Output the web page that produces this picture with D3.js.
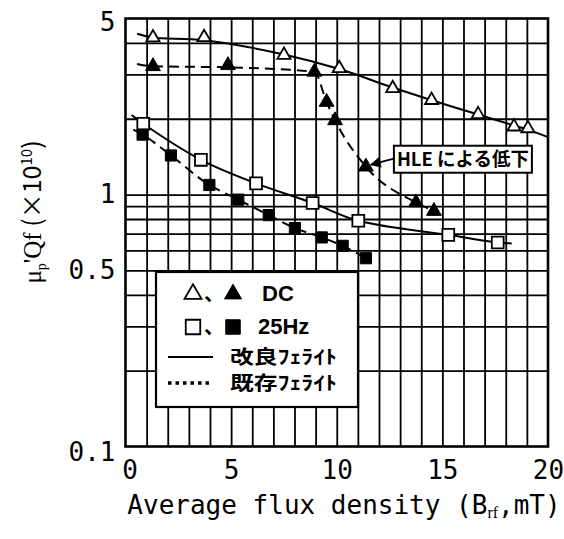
<!DOCTYPE html>
<html>
<head>
<meta charset="utf-8">
<script src="https://cdn.jsdelivr.net/npm/d3@7"></script>
<style>
	body { margin: 0; background: #fff; }
	svg { display: block; }
	.tick_text { font-family: "DejaVu Sans Mono", monospace; font-size: 26px; fill: #000; }
</style>
</head>
<body>
<div id="chart"></div>
<script>
// axis ticks
const x_ticks = [0, 5, 10, 15, 20];
const y_ticks = [0.1, 0.5, 1, 5];
const x_grid = d3.range(1, 20);
const y_grid = [0.2, 0.3, 0.4, 0.5, 0.6, 0.7, 0.8, 0.9, 1, 2, 3, 4];

// DC, improved ferrite (open triangles, solid line)
const dc_new_x = [1.3, 3.72, 7.5, 10.12, 12.65, 14.49, 16.69, 18.39, 19.05];
const dc_new_y = [4.2, 4.21, 3.58, 3.17, 2.64, 2.37, 2.08, 1.86, 1.83];
const dc_new_line_x = [0.55, 1.3, 3.72, 7.5, 10.12, 12.65, 14.49, 16.69, 18.39, 19.05, 20];
const dc_new_line_y = [4.35, 4.2, 4.1, 3.6, 3.15, 2.66, 2.37, 2.08, 1.88, 1.81, 1.69];

// DC, existing ferrite (filled triangles, dashed line)
const dc_old_x = [1.3, 4.85, 8.94, 9.52, 9.92, 11.38, 13.75, 14.6];
const dc_old_y = [3.23, 3.26, 3.07, 2.33, 1.97, 1.29, 0.93, 0.86];
const dc_old_line_x = [0.55, 1.3, 4.85, 8.94, 9.52, 9.92, 11.38, 13.75, 14.6];
const dc_old_line_y = [3.3, 3.23, 3.2, 3.07, 2.33, 1.97, 1.29, 0.93, 0.86];

// 25Hz, improved ferrite (open squares, solid line)
const hz_new_x = [0.84, 3.57, 6.18, 8.86, 11.02, 15.28, 17.62];
const hz_new_y = [1.91, 1.374, 1.108, 0.926, 0.787, 0.692, 0.645];
const hz_new_line_x = [0.29, 0.84, 3.57, 6.18, 8.86, 11.02, 15.28, 17.62, 18.28];
const hz_new_line_y = [2.07, 1.91, 1.374, 1.108, 0.926, 0.787, 0.692, 0.645, 0.64];

// 25Hz, existing ferrite (filled squares, dashed line)
const hz_old_x = [0.81, 2.15, 3.97, 5.34, 6.78, 8.02, 9.29, 10.28, 11.38];
const hz_old_y = [1.73, 1.43, 1.092, 0.955, 0.829, 0.736, 0.676, 0.626, 0.559];
const hz_old_line_x = [0.37, 0.81, 2.15, 3.97, 5.34, 6.78, 8.02, 9.29, 10.28, 11.38];
const hz_old_line_y = [1.81, 1.73, 1.43, 1.092, 0.955, 0.829, 0.736, 0.676, 0.626, 0.559];

// annotation: arrow points at the filled triangle near x = 11.4
const note_text = "HLE による低下";
const note_point = [11.38, 1.29];

const legend_rows = [
	{ marks: ["tri_open", "tri_fill"], label: "DC" },
	{ marks: ["sq_open", "sq_fill"], label: "25Hz" },
	{ line: "solid", label: "改良ﾌｪﾗｲﾄ" },
	{ line: "dotted", label: "既存ﾌｪﾗｲﾄ" }
];

function zip(xs, ys) {
	return xs.map((x, i) => ({ x: x, y: ys[i] }));
}

class flux_chart {

	constructor(opts) {
		this.element = opts.element;
		this.series = opts.series;
		this.init();
	}

	init() {
		this.margin = { top: 18.5, right: 16, bottom: 92.5, left: 125.5 };
		this.w = 564;
		this.h = 539;
		this.width = this.w - this.margin.left - this.margin.right;
		this.height = this.h - this.margin.top - this.margin.bottom;

		this.root = d3.select(this.element).append("svg")
			.attr("width", this.w)
			.attr("height", this.h);
		this.svg = this.root.append("g")
			.attr("transform", `translate(${this.margin.left},${this.margin.top})`);

		this.create_scales();
		this.create_axes();
		this.create_shapes();
		this.create_legend();
		this.create_note();
	}

	create_scales() {
		this.x_scale = d3.scaleLinear().domain([0, 20]).range([0, this.width]);
		this.y_scale = d3.scaleLog().domain([0.1, 5]).range([this.height, 0]);
	}

	create_axes() {
		// grid first, then the frame
		this.svg.append("g")
			.attr("class", "x grid")
			.attr("transform", `translate(0,${this.height})`)
			.call(d3.axisBottom(this.x_scale).tickValues(x_grid).tickSize(-this.height).tickFormat(""))
			.call(g => g.select(".domain").remove())
			.selectAll("line").attr("stroke", "#000").attr("stroke-width", 1.8);

		this.svg.append("g")
			.attr("class", "y grid")
			.call(d3.axisLeft(this.y_scale).tickValues(y_grid).tickSize(-this.width).tickFormat(""))
			.call(g => g.select(".domain").remove())
			.selectAll("line").attr("stroke", "#000").attr("stroke-width", 1.8);

		this.svg.append("rect")
			.attr("width", this.width)
			.attr("height", this.height)
			.attr("fill", "none")
			.attr("stroke", "#000")
			.attr("stroke-width", 2.6);

		this.x_axis = this.svg.append("g")
			.attr("class", "x axis")
			.attr("transform", `translate(0,${this.height})`)
			.call(d3.axisBottom(this.x_scale).tickValues(x_ticks).tickSize(0).tickPadding(14).tickFormat(d3.format("d")))
			.call(g => g.select(".domain").remove());
		this.x_axis.selectAll("text").attr("class", "tick_text").attr("font-size", null).attr("font-family", null)
			.attr("dx", d => d === 0 ? 4 : 0);

		this.y_axis = this.svg.append("g")
			.attr("class", "y axis")
			.call(d3.axisLeft(this.y_scale).tickValues(y_ticks).tickSize(0).tickPadding(10)
				.tickFormat(d => d < 1 ? d3.format(".1f")(d) : d3.format("d")(d)))
			.call(g => g.select(".domain").remove());
		this.y_axis.selectAll("text").attr("class", "tick_text").attr("font-size", null).attr("font-family", null)
			.attr("dy", d => d === 0.1 ? "0.55em" : (d === 5 ? "0.45em" : "0.32em"));

		// axis titles
		this.root.append("text")
			.attr("x", 344)
			.attr("y", 514)
			.attr("text-anchor", "middle")
			.attr("font-family", "DejaVu Sans Mono, monospace")
			.attr("font-size", 26)
			.call(t => {
				t.append("tspan").text("Average flux density (B");
				t.append("tspan").attr("font-family", "Liberation Serif, serif").attr("font-size", 16).attr("dy", 4).text("rf");
				t.append("tspan").attr("dy", -4).text(",mT)");
			});

		this.root.append("text")
			.attr("transform", "translate(41,212) rotate(-90)")
			.attr("text-anchor", "middle")
			.attr("font-size", 25)
			.call(t => {
				t.append("tspan").attr("font-family", "Liberation Serif, serif").text("μ");
				t.append("tspan").attr("font-family", "Liberation Serif, serif").attr("font-size", 14).attr("dy", 5).text("p");
				t.append("tspan").attr("font-family", "Liberation Serif, serif").attr("dy", -5).text("'Qf");
				t.append("tspan").attr("font-family", "Noto Sans CJK JP, sans-serif").text(" (×10");
				t.append("tspan").attr("font-family", "Noto Sans CJK JP, sans-serif").attr("font-size", 15).attr("dy", -9).text("10");
				t.append("tspan").attr("font-family", "Noto Sans CJK JP, sans-serif").attr("dy", 9).text(")");
			});
	}

	marker(g, kind, x, y, big) {
		const tri = big ? 125 : 75;
		const sq = big ? 210 : 140;
		const sym = kind.startsWith("tri") ? d3.symbolTriangle : d3.symbolSquare;
		let area = kind.startsWith("tri") ? tri : sq;
		if (kind === "tri_fill" && !big) area = 95;
		if (kind === "sq_fill" && !big) area = 125;
		const filled = kind.endsWith("fill");
		g.append("path")
			.attr("transform", `translate(${x},${y})`)
			.attr("d", d3.symbol().type(sym).size(area)())
			.attr("fill", filled ? "#000" : "#fff")
			.attr("stroke", "#000")
			.attr("stroke-width", filled ? 1 : 1.8);
	}

	create_shapes() {
		const smooth = d3.line()
			.x(d => this.x_scale(d.x))
			.y(d => this.y_scale(d.y))
			.curve(d3.curveCatmullRom.alpha(0.5));
		const mono = d3.line()
			.x(d => this.x_scale(d.x))
			.y(d => this.y_scale(d.y))
			.curve(d3.curveMonotoneX);

		const g = this.svg.append("g").attr("class", "series");

		this.series.forEach(s => {
			g.append("path")
				.datum(zip(s.line_x, s.line_y))
				.attr("d", s.dashed ? mono : smooth)
				.attr("fill", "none")
				.attr("stroke", "#000")
				.attr("stroke-width", 2)
				.attr("stroke-dasharray", s.dashed ? "10,6" : null);
		});

		this.series.forEach(s => {
			zip(s.x, s.y).forEach(d => {
				this.marker(g, s.kind, this.x_scale(d.x), this.y_scale(d.y), false);
			});
		});
	}

	create_legend() {
		const lg = this.root.append("g").attr("class", "legend");
		lg.append("rect")
			.attr("x", 156).attr("y", 272)
			.attr("width", 202).attr("height", 135)
			.attr("fill", "#fff")
			.attr("stroke", "#000")
			.attr("stroke-width", 2.2);

		const row_y = [293, 326, 357, 383];
		legend_rows.forEach((r, i) => {
			const y = row_y[i];
			if (r.marks) {
				this.marker(lg, r.marks[0], 193, y + 1, true);
				lg.append("text")
					.attr("x", 204).attr("y", y + 8)
					.attr("font-family", "Noto Sans CJK JP, sans-serif")
					.attr("font-size", 20)
					.attr("font-weight", 700)
					.text("、");
				this.marker(lg, r.marks[1], 233, y + 1, true);
				lg.append("text")
					.attr("x", r.label === "DC" ? 262 : 258).attr("y", y + 8)
					.attr("font-family", "Liberation Sans, Arial, sans-serif")
					.attr("font-size", 22)
					.attr("font-weight", 700)
					.text(r.label);
			} else {
				lg.append("line")
					.attr("x1", 168).attr("x2", 213)
					.attr("y1", y).attr("y2", y)
					.attr("stroke", "#000")
					.attr("stroke-width", r.line === "dotted" ? 3.5 : 2)
					.attr("stroke-dasharray", r.line === "dotted" ? "3.5,4" : null);
				lg.append("text")
					.attr("x", 230).attr("y", y + 7)
					.attr("font-family", "Noto Sans CJK JP, sans-serif")
					.attr("font-size", 19)
					.attr("font-weight", 700)
					.attr("textLength", 107)
					.attr("lengthAdjust", "spacingAndGlyphs")
					.text(r.label);
			}
		});
	}

	create_note() {
		const px = this.margin.left + this.x_scale(note_point[0]);
		const py = this.margin.top + this.y_scale(note_point[1]);
		const bx = px + 28, by = py - 21;
		const ng = this.root.append("g").attr("class", "note");

		this.root.append("defs").append("marker")
			.attr("id", "arrow")
			.attr("viewBox", "0 0 10 10")
			.attr("refX", 9).attr("refY", 5)
			.attr("markerWidth", 7).attr("markerHeight", 6)
			.attr("orient", "auto")
			.append("path").attr("d", "M0,0 L10,5 L0,10 z").attr("fill", "#000");

		ng.append("line")
			.attr("x1", bx).attr("y1", by + 13)
			.attr("x2", px + 5).attr("y2", py - 2)
			.attr("stroke", "#000").attr("stroke-width", 1.8)
			.attr("marker-end", "url(#arrow)");

		ng.append("rect")
			.attr("x", bx).attr("y", by)
			.attr("width", 138).attr("height", 27)
			.attr("fill", "#fff").attr("stroke", "#000").attr("stroke-width", 2);

		ng.append("text")
			.attr("x", bx + 69).attr("y", by + 20)
			.attr("text-anchor", "middle")
			.attr("font-family", "Noto Sans CJK JP, sans-serif")
			.attr("font-size", 19)
			.attr("font-weight", 700)
			.attr("textLength", 132)
			.attr("lengthAdjust", "spacingAndGlyphs")
			.text(note_text);
	}
}

new flux_chart({
	element: "#chart",
	series: [
		{ kind: "tri_open", x: dc_new_x, y: dc_new_y, line_x: dc_new_line_x, line_y: dc_new_line_y, dashed: false },
		{ kind: "tri_fill", x: dc_old_x, y: dc_old_y, line_x: dc_old_line_x, line_y: dc_old_line_y, dashed: true },
		{ kind: "sq_open", x: hz_new_x, y: hz_new_y, line_x: hz_new_line_x, line_y: hz_new_line_y, dashed: false },
		{ kind: "sq_fill", x: hz_old_x, y: hz_old_y, line_x: hz_old_line_x, line_y: hz_old_line_y, dashed: true }
	]
});
</script>
</body>
</html>
